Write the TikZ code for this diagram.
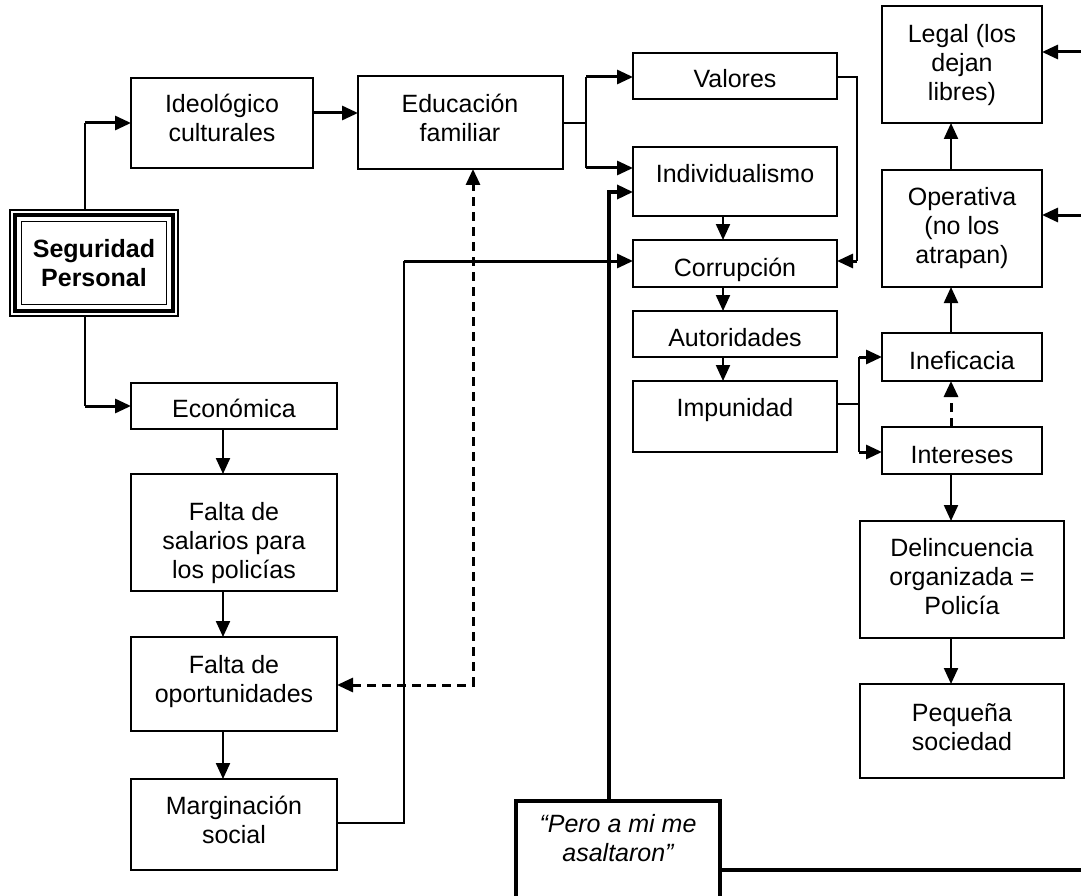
\documentclass[tikz,border=0pt]{standalone}
\usepackage{fontspec}
\setmainfont{Liberation Sans}
\usetikzlibrary{arrows.meta}
\newcommand\lblfont{\fontsize{25}{29}\selectfont}
% box from its corners: name, left, top, right, bottom
\newcommand\mkbox[6][]{\node[box,#1,minimum width={(#5-#3)*1pt},minimum height={(#6-#4)*1pt}] (#2) at ({(#3+#5)/2},{(#4+#6)/2}) {};}
% text block: name, centre x, first baseline, lines
\newcommand\mktext[5][]{\node[txt,#1] (#2) at (#3,{#4-20.3}) {\strut #5};}
\begin{document}
\begin{tikzpicture}[x=1pt,y=-1pt,
  box/.style={draw,rectangle,line width=2pt,inner sep=0pt,outer sep=0pt},
  txt/.style={anchor=north,inner sep=0pt,align=center,font=\lblfont},
  thinln/.style={line width=1.8pt},
  medln/.style={line width=2.2pt},
  thickln/.style={line width=3pt},
  dashln/.style={line width=3pt,dash pattern=on 9pt off 6pt},
  arr/.style={-{Triangle[length=16pt,width=14pt]}},
  arrb/.style={{Triangle[length=16pt,width=14pt]}-{Triangle[length=16pt,width=14pt]}}]
\path[use as bounding box] (0,0) rectangle (1081,896);
\clip (0,0) rectangle (1081,896);

% boxes
\mkbox[line width=1.5pt]{seg}{10}{210}{178}{316}
\draw[line width=4pt] ([shift={(5,5)}]seg.north west) rectangle ([shift={(-5,-5)}]seg.south east);
\draw[line width=1.5pt] ([shift={(11.5,11.5)}]seg.north west) rectangle ([shift={(-11.5,-11.5)}]seg.south east);
\mkbox{ideo}{131}{78}{313}{168}
\mkbox{edu}{358}{76}{563}{169}
\mkbox{val}{633}{53}{837}{99}
\mkbox{ind}{633}{147}{837}{216}
\mkbox{cor}{633}{240}{837}{287}
\mkbox{aut}{633}{311}{837}{357}
\mkbox{imp}{633}{381}{837}{452}
\mkbox{eco}{131}{383}{337}{429}
\mkbox{fsal}{131}{474}{337}{591}
\mkbox{fop}{131}{637}{337}{731}
\mkbox{marg}{131}{779}{337}{870}
\mkbox{legal}{882}{6}{1042}{123}
\mkbox{oper}{882}{170}{1042}{287}
\mkbox{inef}{882}{333}{1042}{381}
\mkbox{inter}{882}{427}{1042}{474}
\mkbox{delin}{860}{521}{1064}{638}
\mkbox{peq}{860}{684}{1064}{778}
\mkbox[line width=4pt]{pero}{516}{801}{720}{905}

% labels
\mktext[font=\lblfont\bfseries]{segt}{94}{257}{Seguridad\\Personal}
\mktext{ideot}{222}{112}{Ideológico\\culturales}
\mktext{edut}{460}{112}{Educación\\familiar}
\mktext{valt}{735}{87}{Valores}
\mktext{indt}{735}{182}{Individualismo}
\mktext{cort}{735}{276}{Corrupción}
\mktext{autt}{735}{346}{Autoridades}
\mktext{impt}{735}{416}{Impunidad}
\mktext{ecot}{234}{417}{Económica}
\mktext{fsalt}{234}{520}{Falta de\\salarios para\\los policías}
\mktext{fopt}{234}{673}{Falta de\\oportunidades}
\mktext{margt}{234}{814}{Marginación\\social}
\mktext{legalt}{962}{42}{Legal (los\\dejan\\libres)}
\mktext{opert}{962}{205}{Operativa\\(no los\\atrapan)}
\mktext{ineft}{962}{369}{Ineficacia}
\mktext{intert}{962}{463}{Intereses}
\mktext{delint}{962}{556}{Delincuencia\\organizada =\\Policía}
\mktext{peqt}{962}{721}{Pequeña\\sociedad}
\mktext[font=\lblfont\itshape]{perot}{618}{832}{“Pero a mi me\\asaltaron”}

% elbow points
\coordinate (sA) at (85,123);
\coordinate (sB) at (85,406);
\coordinate (ie) at (0,113);
\coordinate (ef) at (586,123);
\coordinate (efT) at (586,77);
\coordinate (efB) at (586,168);
\coordinate (vr) at (857,77);
\coordinate (vc) at (857,261);
\coordinate (mg) at (404,823);
\coordinate (mc) at (404,261);
\coordinate (pi) at (609,192);
\coordinate (cx) at (723,0);
\coordinate (ip) at (859,404);
\coordinate (ipT) at (859,357);
\coordinate (ipB) at (859,452);
\coordinate (rx) at (951,0);
\coordinate (lx) at (223,0);
\coordinate (dd) at (473,685);
\coordinate (rb) at (1100,870);
\coordinate (rl) at (1100,52);
\coordinate (ro) at (1100,215);

% connectors
\draw[thinln] (seg.north -| sA) -- (sA);
\draw[thickln,arr] (sA) -- (sA -| ideo.west);
\draw[thinln] (seg.south -| sB) -- (sB);
\draw[thickln,arr] (sB) -- (sB -| eco.west);
\draw[thickln,arr] (ie -| ideo.east) -- (ie -| edu.west);

\draw[thinln] (ef -| edu.east) -- (ef);
\draw[thinln] (efT) -- (efB);
\draw[thickln,arr] (efT) -- (efT -| val.west);
\draw[thickln,arr] (efB) -- (efB -| ind.west);

\draw[thinln] (vr -| val.east) -- (vr) -- (vc);
\draw[thickln,arr] (vc) -- (vc -| cor.east);

\draw[thinln] (mg -| marg.east) -- (mg) -- (mc);
\draw[thickln,arr] (mc) -- (mc -| cor.west);

\draw[line width=3.5pt,arr] (pero.north -| pi) -- (pi) -- (pi -| ind.west);

\draw[medln,arr] (ind.south -| cx) -- (cor.north -| cx);
\draw[medln,arr] (cor.south -| cx) -- (aut.north -| cx);
\draw[medln,arr] (aut.south -| cx) -- (imp.north -| cx);

\draw[thinln] (ip -| imp.east) -- (ip);
\draw[thinln] (ipT) -- (ipB);
\draw[thickln,arr] (ipT) -- (ipT -| inef.west);
\draw[thickln,arr] (ipB) -- (ipB -| inter.west);

\draw[dashln,arr] (inter.north -| rx) -- (inef.south -| rx);
\draw[medln,arr] (inef.north -| rx) -- (oper.south -| rx);
\draw[medln,arr] (oper.north -| rx) -- (legal.south -| rx);
\draw[medln,arr] (inter.south -| rx) -- (delin.north -| rx);
\draw[medln,arr] (delin.south -| rx) -- (peq.north -| rx);

\draw[medln,arr] (eco.south -| lx) -- (fsal.north -| lx);
\draw[medln,arr] (fsal.south -| lx) -- (fop.north -| lx);
\draw[medln,arr] (fop.south -| lx) -- (marg.north -| lx);

\draw[dashln,arrb] (dd -| fop.east) -- (dd) -- (dd |- edu.south);

\draw[line width=3.5pt] (rb -| pero.east) -- (rb) -- (rl);
\draw[thickln,arr] (rl) -- (rl -| legal.east);
\draw[thickln,arr] (ro) -- (ro -| oper.east);
\end{tikzpicture}
\end{document}
